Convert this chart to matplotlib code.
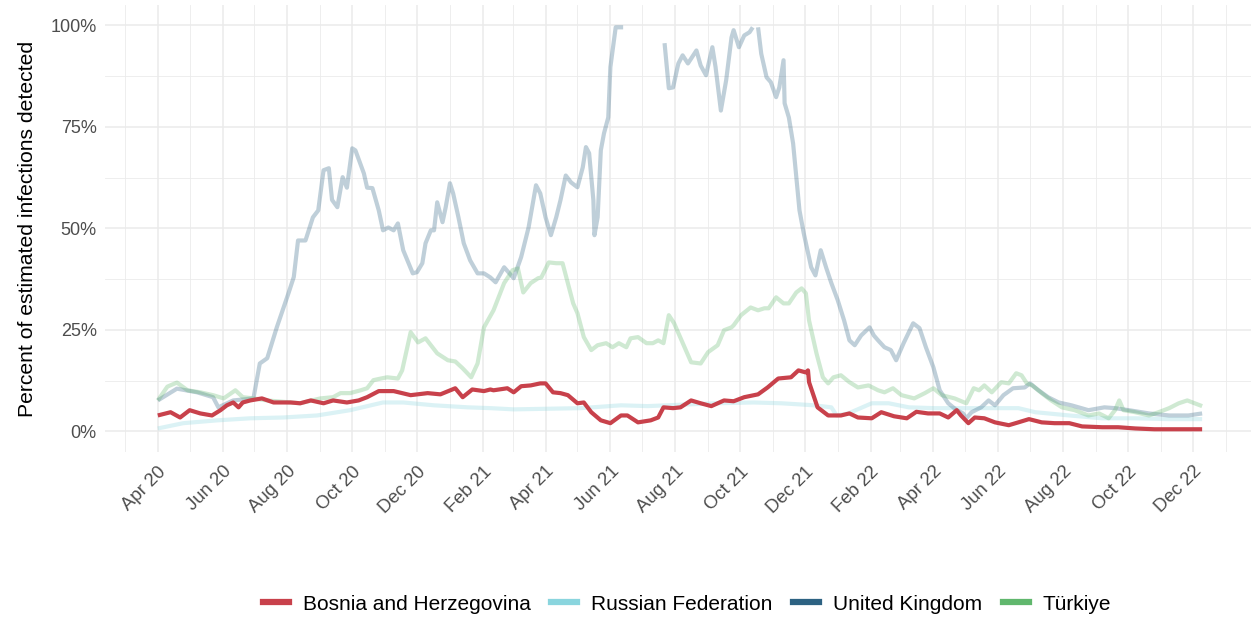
import numpy as np
import pandas as pd
import matplotlib
matplotlib.use("Agg")
import matplotlib.pyplot as plt
import matplotlib.dates as mdates
from matplotlib.lines import Line2D

plt.rcParams['font.family'] = ['Liberation Sans', 'DejaVu Sans']

START = "2020-04-01"  # day 0 of the day-offset arrays below

# ---- data: days since 2020-04-01, percent of estimated infections detected ----
bih_day = [0, 12, 21, 30, 40, 51, 59, 65, 71, 76, 80, 87, 98, 109, 125, 134, 144, 156, 165, 178,
           189, 197, 208, 222, 238, 254, 266, 280, 287, 296, 307, 313, 316, 329, 335, 342, 351, 360,
           365, 372, 379, 386, 395, 401, 408, 417, 426, 436, 442, 452, 464, 471, 476, 485, 492, 502,
           511, 521, 533, 542, 552, 565, 574, 584, 596, 603, 610, 612, 613, 621, 631, 643, 651, 659,
           672, 681, 693, 705, 714, 725, 736, 744, 752, 756, 763, 769, 778, 788, 801, 810, 820, 832,
           844, 858, 870, 889, 904, 920, 938, 952, 967, 983]
bih_val = [3.9, 4.7, 3.4, 5.2, 4.4, 3.9, 5.2, 6.4, 7.1, 5.9, 7.1, 7.6, 8.1, 7.1, 7.1, 6.9, 7.6, 6.9, 7.6, 7.1,
           7.6, 8.4, 9.9, 9.9, 8.9, 9.4, 9.1, 10.6, 8.4, 10.3, 9.9, 10.3, 10.1, 10.6, 9.6, 11.1, 11.3, 11.8,
           11.8, 9.6, 9.4, 8.9, 6.9, 7.1, 4.7, 2.7, 2.0, 3.9, 3.9, 2.2, 2.7, 3.4, 5.9, 5.7, 5.9, 7.6,
           6.9, 6.2, 7.6, 7.4, 8.4, 9.1, 10.8, 13.0, 13.3, 15.0, 14.5, 15.0, 12.1, 5.9, 3.9, 3.9, 4.4, 3.4,
           3.2, 4.7, 3.7, 3.2, 4.8, 4.4, 4.4, 3.4, 5.2, 3.9, 2.0, 3.4, 3.2, 2.2, 1.5, 2.2, 3.0, 2.2,
           2.0, 2.0, 1.2, 1.0, 1.0, 0.7, 0.5, 0.5, 0.5, 0.5]

rus_day = [0, 24, 56, 87, 118, 150, 181, 212, 231, 260, 292, 313, 335, 398, 436, 461, 524, 561, 587,
           618, 634, 639, 650, 672, 688, 707, 731, 763, 810, 826, 858, 889, 920, 952, 983]
rus_val = [0.7, 2.0, 2.7, 3.2, 3.4, 3.9, 5.2, 7.1, 7.1, 6.4, 5.9, 5.7, 5.4, 5.7, 6.4, 6.2, 6.9, 7.1, 6.9,
           6.4, 5.9, 3.9, 4.4, 6.9, 6.9, 5.9, 5.7, 5.7, 5.7, 4.7, 3.9, 3.2, 3.2, 3.0, 3.0]

# NaN = estimate above 100% (dropped by the axis limits)
gbr_day = [0, 18, 37, 52, 57, 71, 90, 96, 103, 112, 123, 128, 132, 139, 146, 151, 156, 161, 164, 169,
           174, 178, 183, 186, 194, 197, 202, 208, 212, 217, 222, 226, 231, 240, 244, 249, 252, 257, 260,
           263, 268, 271, 275, 278, 283, 288, 294, 301, 307, 313, 318, 326, 335, 342, 349, 356, 360, 365,
           370, 375, 379, 384, 389, 395, 400, 403, 406, 410, 411, 414, 417, 420, 424, 426, 431, 438, 458,
           477, 481, 485, 490, 494, 499, 507, 511, 516, 522, 525, 530, 535, 540, 542, 547, 552, 557, 560,
           562, 565, 568, 573, 577, 582, 585, 589, 590, 594, 598, 604, 608, 615, 619, 624, 629, 634, 640,
           646, 651, 656, 662, 670, 674, 678, 684, 690, 695, 702, 711, 717, 723, 730, 736, 744, 752, 758,
           761, 766, 775, 782, 788, 796, 805, 816, 821, 829, 838, 848, 860, 876, 891, 901, 914, 933, 952,
           970, 983]
gbr_val = [7.6, 10.5, 9.6, 8.4, 5.9, 7.6, 8.1, 16.7, 18.0, 25.6, 34.0, 38.0, 47.0, 47.0, 52.7, 54.4, 64.3,
           64.8, 57.0, 55.2, 62.6, 60.0, 69.7, 69.2, 63.5, 60.0, 59.9, 54.4, 49.5, 50.2, 49.5, 51.2, 44.6,
           38.9, 39.2, 41.4, 46.3, 49.5, 49.5, 56.4, 51.5, 55.2, 61.1, 58.6, 52.7, 46.3, 42.1, 38.9, 38.9,
           37.9, 36.7, 40.4, 37.7, 42.9, 50.2, 60.6, 58.6, 52.7, 48.3, 52.7, 56.9, 63.0, 61.3, 60.1, 65.0,
           70.0, 68.5, 56.9, 48.3, 52.7, 69.2, 73.4, 77.3, 89.7, 99.5, 99.5, np.nan,
           95.6, 84.5, 84.7, 90.6, 92.6, 90.6, 93.8, 90.1, 87.7, 94.6, 89.7, 79.0, 86.5, 97.0, 98.8, 94.6,
           97.5, 98.3, 99.5, np.nan, 99.5, 93.0, 87.2, 86.0, 82.3, 84.7, 91.4, 80.8, 77.3, 70.9, 54.4, 48.8,
           40.4, 38.4, 44.6, 40.4, 36.5, 32.3, 27.3, 22.4, 21.2, 23.6, 25.6, 23.6, 22.4, 20.7, 20.0, 17.5,
           21.7, 26.6, 25.4, 20.7, 15.8, 10.1, 6.9, 5.2, 4.4, 3.2, 4.7, 5.9, 7.6, 6.4, 8.9, 10.6, 10.8,
           11.8, 10.1, 8.4, 7.1, 6.4, 5.2, 5.9, 5.7, 5.2, 4.4, 3.9, 3.9, 4.4]

tur_day = [0, 9, 18, 28, 40, 52, 62, 73, 80, 90, 103, 134, 153, 165, 172, 181, 191, 197, 203, 210, 216,
           226, 230, 238, 245, 252, 263, 273, 280, 287, 295, 301, 307, 316, 326, 334, 339, 344, 351, 358,
           361, 368, 375, 381, 386, 391, 395, 401, 408, 414, 422, 428, 434, 441, 445, 452, 460, 466, 471,
           476, 481, 486, 491, 497, 502, 511, 518, 527, 533, 540, 542, 549, 558, 565, 571, 575, 582, 589,
           594, 601, 606, 610, 613, 620, 626, 631, 636, 643, 651, 659, 669, 678, 684, 692, 700, 712, 722,
           730, 738, 750, 761, 768, 773, 778, 785, 794, 801, 808, 813, 818, 823, 832, 841, 851, 863, 876,
           886, 895, 901, 905, 909, 920, 933, 942, 952, 961, 969, 976, 983]
tur_val = [7.6, 11.0, 12.0, 10.1, 9.6, 8.9, 8.1, 10.1, 8.4, 8.1, 7.6, 6.9, 8.1, 8.4, 9.4, 9.4, 10.1, 10.6,
           12.6, 13.0, 13.3, 13.0, 15.0, 24.4, 21.9, 22.9, 19.2, 17.5, 17.2, 15.5, 13.3, 16.7, 25.6, 29.8,
           36.5, 39.7, 40.1, 34.2, 36.5, 37.7, 37.9, 41.6, 41.4, 41.4, 36.5, 31.5, 29.1, 23.2, 20.0, 21.2,
           21.7, 20.7, 21.7, 20.7, 22.9, 23.2, 21.7, 21.7, 22.4, 21.7, 28.6, 26.6, 23.6, 20.0, 17.0, 16.7,
           19.5, 21.2, 24.9, 25.6, 26.1, 28.6, 30.5, 29.8, 30.3, 30.3, 33.0, 31.5, 31.5, 34.2, 35.2, 34.0,
           27.3, 19.2, 13.3, 11.8, 13.3, 13.8, 12.1, 10.8, 11.3, 10.1, 9.6, 10.6, 8.9, 8.1, 9.4, 10.6, 8.9,
           8.1, 6.9, 10.6, 10.1, 11.3, 9.6, 12.1, 11.8, 14.3, 13.8, 11.8, 11.3, 9.4, 7.6, 5.9, 5.2, 3.9,
           4.4, 3.2, 5.2, 7.6, 5.2, 4.7, 3.9, 4.7, 5.7, 6.9, 7.6, 6.9, 6.2]

countries = ["Bosnia and Herzegovina", "Russian Federation", "United Kingdom", "Türkiye"]
colors = {"Bosnia and Herzegovina": "#C8414B", "Russian Federation": "#8AD5DE",
          "United Kingdom": "#2D6282", "Türkiye": "#60B76D"}
tick_months = pd.date_range("2020-04-01", "2022-12-01", freq="2MS")
minor_months = pd.date_range("2020-03-01", "2023-01-01", freq="MS")
y_ticks = [0, 25, 50, 75, 100]
y_minor = [12.5, 37.5, 62.5, 87.5]


def to_dates(days):
    return pd.Timestamp(START) + pd.to_timedelta(np.asarray(days, dtype=float), unit="D")


series = {
    "Russian Federation": (rus_day, rus_val),
    "United Kingdom": (gbr_day, gbr_val),
    "Türkiye": (tur_day, tur_val),
    "Bosnia and Herzegovina": (bih_day, bih_val),
}

W, H = 1252, 617
fig = plt.figure(figsize=(W / 100, H / 100), dpi=100)
ax = fig.add_axes([105 / W, 1 - 452 / H, (1251 - 105) / W, 447 / H])

for name, (d, v) in series.items():
    alpha = 1.0 if name == "Bosnia and Herzegovina" else 0.3
    ax.plot(to_dates(d), v, color=colors[name], lw=3.0, alpha=alpha,
            solid_joinstyle="round", solid_capstyle="butt", zorder=3 if alpha == 1 else 2)

ax.set_xlim(pd.Timestamp(START) + pd.Timedelta(days=-49.7), pd.Timestamp(START) + pd.Timedelta(days=1029))
ax.set_ylim(-5.1, 105)

ax.set_xticks(tick_months)
ax.set_xticks(minor_months, minor=True)
ax.xaxis.set_major_formatter(mdates.DateFormatter("%b %y"))
ax.set_yticks(y_ticks)
ax.set_yticks(y_minor, minor=True)
ax.set_yticklabels([f"{t}%" for t in y_ticks])

ax.grid(which="major", color="#EBEBEB", lw=1.1)
ax.grid(which="minor", color="#EBEBEB", lw=0.6)
ax.set_axisbelow(True)
for s in ax.spines.values():
    s.set_visible(False)
ax.tick_params(which="both", length=0)
ax.tick_params(axis="y", labelsize=13, labelcolor="#4D4D4D", pad=6)
ax.tick_params(axis="x", labelsize=13.3, labelcolor="#4D4D4D", pad=8)
for lab in ax.get_xticklabels():
    lab.set_rotation(45)
    lab.set_ha("right")
    lab.set_va("top")
    lab.set_rotation_mode("anchor")

ax.set_ylabel("Percent of estimated infections detected", fontsize=15.2, color="black", labelpad=10)

handles = [Line2D([0], [0], color=colors[c], lw=4.5) for c in countries]
fig.legend(handles, countries, loc="center", bbox_to_anchor=(687 / W, 1 - 604 / H), ncol=4,
           frameon=False, fontsize=15, handlelength=1.25, handletextpad=0.65, columnspacing=1.0)

fig.savefig("out.png", dpi=100)
